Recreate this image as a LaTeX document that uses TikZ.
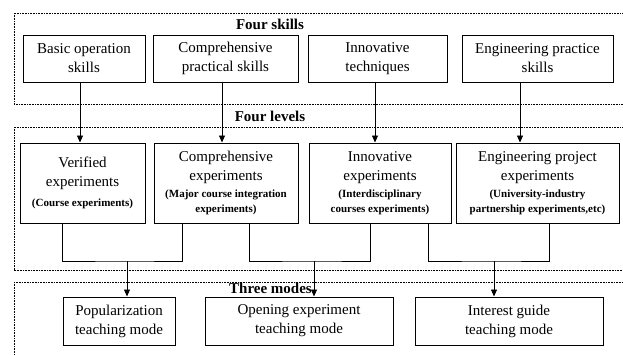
\documentclass[tikz,border=0pt]{standalone}
\usepackage{fontspec}
\setmainfont{Liberation Serif}
\usetikzlibrary{arrows.meta}
\newcommand{\subnote}[1]{{\fontsize{11}{14}\selectfont\bfseries #1}}
\begin{document}
\begin{tikzpicture}[x=1pt,y=-1pt,
  box/.style={draw, line width=1pt, inner sep=0pt, align=center,
    font=\fontsize{15}{19}\selectfont},
  zone/.style={line width=0.7pt, dash pattern=on 0.8pt off 0.8pt},
  head/.style={font=\fontsize{15}{18}\selectfont\bfseries, inner sep=0pt},
  link/.style={line width=0.8pt},
  arr/.style={line width=0.8pt, -{Triangle[width=6pt,length=7pt]}}]
\useasboundingbox (0,0) rectangle (623,354);
\clip (0,0) rectangle (623,354);

% dotted zones
\draw[zone] (14,13) rectangle (640,104);
\draw[zone] (14,127) rectangle (640,270);
\draw[zone] (14,282) rectangle (640,370);

% zone titles
\node[head] (h1) at (270,24) {Four skills};
\node[head] (h2) at (270,116) {Four levels};
\node[head] (h3) at (270.5,288) {Three modes};

% four skills
\node[box, minimum width=122, minimum height=47] (b1) at (84,58.5) {Basic operation\\skills};
\node[box, minimum width=145, minimum height=47] (b2) at (225.5,58.5) {Comprehensive\\practical skills};
\node[box, minimum width=139, minimum height=47] (b3) at (377.5,58.5) {Innovative\\techniques};
\node[box, minimum width=151, minimum height=47] (b4) at (537.5,58.5) {Engineering practice\\skills};

% four levels
\node[box, minimum width=125, minimum height=80] (l1) at (82.5,183)
  {Verified\\experiments\\[1pt]\subnote{(Course experiments)}};
\node[box, minimum width=144, minimum height=80] (l2) at (226,183)
  {Comprehensive\\experiments\\[-2pt]\subnote{(Major course integration}\\[-4pt]\subnote{experiments)}};
\node[box, minimum width=142, minimum height=80] (l3) at (380,183)
  {Innovative\\experiments\\[-2pt]\subnote{(Interdisciplinary}\\[-4pt]\subnote{courses experiments)}};
\node[box, minimum width=163, minimum height=80] (l4) at (537.5,183)
  {Engineering project\\experiments\\[-2pt]\subnote{(University-industry}\\[-4pt]\subnote{partnership experiments,etc)}};

% three modes
\node[box, minimum width=112, minimum height=48] (m1) at (119,321) {Popularization\\teaching mode};
\node[box, minimum width=188, minimum height=48] (m2) at (299,321) {Opening experiment\\teaching mode};
\node[box, minimum width=188, minimum height=48] (m3) at (509,321) {Interest guide\\teaching mode};

% skills to levels
\coordinate (a1) at ([xshift=-4pt]b1.south);
\coordinate (a2) at ([xshift=-3.5pt]b2.south);
\coordinate (a3) at ([xshift=-2.5pt]b3.south);
\coordinate (a4) at ([xshift=-17.5pt]b4.south);
\draw[arr] (a1) -- (a1 |- l1.north);
\draw[arr] (a2) -- (a2 |- l2.north);
\draw[arr] (a3) -- (a3 |- l3.north);
\draw[arr] (a4) -- (a4 |- l4.north);

% levels to modes
\coordinate (j1) at (127,261);
\coordinate (j2) at (314,261);
\coordinate (j3) at (494,261);
\draw[link] ([xshift=-20.5pt]l1.south) |- (j1) -| ([xshift=-44pt]l2.south);
\draw[link] ([xshift=23pt]l2.south) |- (j2) -| ([xshift=-10pt]l3.south);
\draw[link] ([xshift=48pt]l3.south) |- (j3) -| ([xshift=11.5pt]l4.south);
\draw[arr] (j1) -- (j1 |- m1.north);
\draw[arr] (j2) -- (j2 |- m2.north);
\draw[arr] (j3) -- (j3 |- m3.north);
\end{tikzpicture}
\end{document}
